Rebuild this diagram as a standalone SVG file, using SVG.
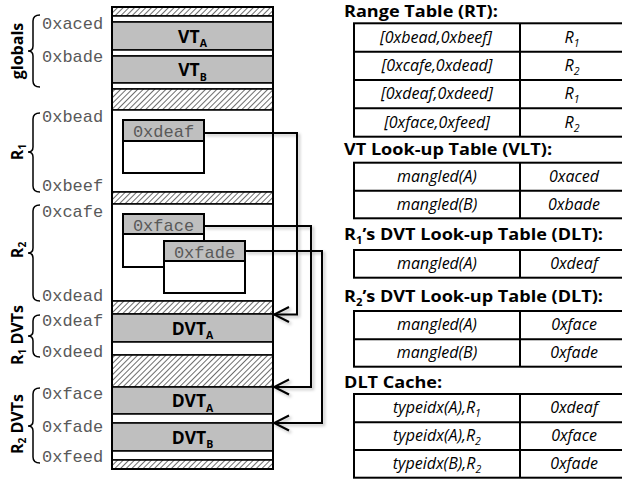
<svg xmlns="http://www.w3.org/2000/svg" width="622" height="481" viewBox="0 0 622 481">
<defs>
<pattern id="hatch" patternUnits="userSpaceOnUse" width="4" height="4" patternTransform="rotate(45)">
<rect width="4" height="4" fill="#fff"/>
<line x1="0.5" y1="0" x2="0.5" y2="4" stroke="#6e6e6e" stroke-width="1"/>
</pattern>
<marker id="arr" markerUnits="userSpaceOnUse" viewBox="-17 -10 19 20" markerWidth="19" markerHeight="20" refX="0" refY="0" orient="auto">
<path d="M-15,-7.5 L0,0 L-15,7.5" fill="none" stroke="#000" stroke-width="2"/>
</marker>
<filter id="sh" x="-10%" y="-10%" width="130%" height="130%">
<feDropShadow dx="2" dy="2" stdDeviation="1.5" flood-color="#000" flood-opacity="0.25"/>
</filter>
</defs>
<style>
.hatch{fill:url(#hatch);stroke:#000;stroke-width:1.5}
.white{fill:#fff;stroke:#000;stroke-width:1.5}
.gray{fill:#bfbfbf;stroke:#000;stroke-width:1.5}
.box{fill:#fff;stroke:#000;stroke-width:2}
.hdr{fill:#bfbfbf;stroke:#000;stroke-width:2}
.addr{font-family:"Liberation Mono","Courier New",monospace;font-size:17px;fill:#595959}
.lbl{font-family:"Open Sans","Liberation Sans",sans-serif;font-weight:bold;font-size:16px;fill:#000}
.big{font-size:17.5px}
.mid{text-anchor:middle}
.head{font-family:"Open Sans","Liberation Sans",sans-serif;font-weight:bold;font-size:16px;fill:#000}
.cell{font-family:"Open Sans","Liberation Sans",sans-serif;font-style:italic;font-size:16px;fill:#000;text-anchor:middle}
.tbl{fill:none;stroke:#000;stroke-width:2}
.brace{fill:none;stroke:#000;stroke-width:1.5}
.conn{fill:none;stroke:#000;stroke-width:2;marker-end:url(#arr)}
</style>

<g id="memory">
<g id="pad-top"><rect class="hatch" x="112" y="7" width="161" height="9"/><rect class="white" x="112" y="16" width="161" height="6"/></g>
<g id="vt-a"><rect class="gray" x="112" y="22" width="161" height="28"/><text class="lbl big mid" x="192.5" y="42.5">VT<tspan font-size="10.5" dy="4.5">A</tspan></text></g>
<rect class="white" x="112" y="50" width="161" height="6"/>
<g id="vt-b"><rect class="gray" x="112" y="56" width="161" height="27"/><text class="lbl big mid" x="192.5" y="76">VT<tspan font-size="10.5" dy="4.5">B</tspan></text></g>
<rect class="white" x="112" y="83" width="161" height="6"/>
<rect class="hatch" x="112" y="89" width="161" height="21"/>
<g id="region-r1"><rect class="white" x="112" y="110" width="161" height="82"/></g>
<rect class="hatch" x="112" y="192" width="161" height="12"/>
<g id="region-r2"><rect class="white" x="112" y="204" width="161" height="97"/></g>
<rect class="hatch" x="112" y="301" width="161" height="13"/>
<g id="r1-dvt-a"><rect class="gray" x="112" y="314" width="161" height="28"/><text class="lbl big mid" x="192.5" y="334.5">DVT<tspan font-size="10.5" dy="4.5">A</tspan></text></g>
<rect class="white" x="112" y="342" width="161" height="13"/>
<rect class="hatch" x="112" y="355" width="161" height="32"/>
<g id="r2-dvt-a"><rect class="gray" x="112" y="387" width="161" height="27"/><text class="lbl big mid" x="192.5" y="407">DVT<tspan font-size="10.5" dy="4.5">A</tspan></text></g>
<rect class="white" x="112" y="414" width="161" height="9"/>
<g id="r2-dvt-b"><rect class="gray" x="112" y="423" width="161" height="28"/><text class="lbl big mid" x="192.5" y="443.5">DVT<tspan font-size="10.5" dy="4.5">B</tspan></text></g>
<rect class="white" x="112" y="451" width="161" height="9"/>
<rect class="hatch" x="112" y="460" width="161" height="9"/>
<rect x="112" y="7" width="161" height="462" fill="none" stroke="#000" stroke-width="2"/>
</g>

<g id="obj-deaf"><rect class="box" x="123" y="120" width="81" height="53"/><rect class="hdr" x="123" y="120" width="81" height="21"/><text class="addr mid" x="163.5" y="136.5">0xdeaf</text></g>
<g id="obj-face"><rect class="box" x="123" y="214" width="81" height="53"/><rect class="hdr" x="123" y="214" width="81" height="20"/><text class="addr mid" x="163.5" y="231">0xface</text></g>
<g id="obj-fade"><rect class="box" x="164" y="241" width="81" height="52"/><rect class="hdr" x="164" y="241" width="81" height="20"/><text class="addr mid" x="204.5" y="258">0xfade</text></g>

<g id="connectors" filter="url(#sh)">
<path class="conn" d="M204,133 H297 V314.5 H274"/>
<path class="conn" d="M204,226 H311 V387 H274"/>
<path class="conn" d="M245,251 H322 V423 H274"/>
</g>

<g id="addresses">
<text class="addr" x="42" y="29">0xaced</text>
<text class="addr" x="42" y="62">0xbade</text>
<text class="addr" x="42" y="122">0xbead</text>
<text class="addr" x="42" y="191">0xbeef</text>
<text class="addr" x="42" y="217">0xcafe</text>
<text class="addr" x="42" y="301">0xdead</text>
<text class="addr" x="42" y="326">0xdeaf</text>
<text class="addr" x="42" y="357">0xdeed</text>
<text class="addr" x="42" y="399">0xface</text>
<text class="addr" x="42" y="432">0xfade</text>
<text class="addr" x="42" y="462">0xfeed</text>
</g>

<g id="brace-globals"><path class="brace" d="M40,15 Q33,15 33,21 V46 Q33,51 28,51 Q33,51 33,56 V81 Q33,87 40,87"/><text class="lbl mid" transform="translate(23,51) rotate(-90)">globals</text></g>
<g id="brace-r1"><path class="brace" d="M40,113 Q33,113 33,119 V147 Q33,152 28,152 Q33,152 33,157 V186 Q33,192 40,192"/><text class="lbl mid" transform="translate(23,152) rotate(-90)">R<tspan font-size="10" dy="3">1</tspan></text></g>
<g id="brace-r2"><path class="brace" d="M40,205 Q33,205 33,211 V248 Q33,253 28,253 Q33,253 33,258 V295 Q33,301 40,301"/><text class="lbl mid" transform="translate(23,250) rotate(-90)">R<tspan font-size="10" dy="3">2</tspan></text></g>
<g id="brace-r1-dvts"><path class="brace" d="M40,315 Q33,315 33,321 V331 Q33,336 28,336 Q33,336 33,341 V351 Q33,357 40,357"/><text class="lbl mid" transform="translate(23,335) rotate(-90)">R<tspan font-size="10" dy="3">1</tspan><tspan dy="-3"> DVTs</tspan></text></g>
<g id="brace-r2-dvts"><path class="brace" d="M40,388 Q33,388 33,394 V421 Q33,426 28,426 Q33,426 33,431 V457 Q33,463 40,463"/><text class="lbl mid" transform="translate(23,424) rotate(-90)">R<tspan font-size="10" dy="3">2</tspan><tspan dy="-3"> DVTs</tspan></text></g>

<g id="table-rt">
<text class="head" transform="translate(344,17) scale(1.13,1)">Range Table (RT):</text>
<rect class="tbl" x="354" y="23.3" width="276" height="113.4"/>
<path class="tbl" d="M354,51.7 H630 M354,80 H630 M354,108.3 H630 M520,23.3 V136.7"/>
<text class="cell" x="436" y="42.5">[0xbead,0xbeef]</text>
<text class="cell" x="437" y="71">[0xcafe,0xdead]</text>
<text class="cell" x="437" y="99">[0xdeaf,0xdeed]</text>
<text class="cell" x="437" y="127.5">[0xface,0xfeed]</text>
<text class="cell" x="572" y="42.5">R<tspan font-size="10.5" dy="4">1</tspan></text>
<text class="cell" x="572" y="71">R<tspan font-size="10.5" dy="4">2</tspan></text>
<text class="cell" x="572" y="99">R<tspan font-size="10.5" dy="4">1</tspan></text>
<text class="cell" x="572" y="127.5">R<tspan font-size="10.5" dy="4">2</tspan></text>
</g>

<g id="table-vlt">
<text class="head" transform="translate(344,155) scale(1.13,1)">VT Look-up Table (VLT):</text>
<rect class="tbl" x="354" y="162.7" width="276" height="55.6"/>
<path class="tbl" d="M354,190.7 H630 M520,162.7 V218.3"/>
<text class="cell" x="437" y="182">mangled(A)</text>
<text class="cell" x="574" y="182">0xaced</text>
<text class="cell" x="437" y="209.5">mangled(B)</text>
<text class="cell" x="574" y="209.5">0xbade</text>
</g>

<g id="table-r1-dlt">
<text class="head" transform="translate(344,239.5) scale(1.13,1)">R<tspan font-size="10" dy="4">1</tspan><tspan dy="-4">’s DVT Look-up Table (DLT):</tspan></text>
<rect class="tbl" x="354" y="250" width="276" height="27.7"/>
<path class="tbl" d="M520,250 V277.7"/>
<text class="cell" x="437" y="269">mangled(A)</text>
<text class="cell" x="574" y="269">0xdeaf</text>
</g>

<g id="table-r2-dlt">
<text class="head" transform="translate(344,301.5) scale(1.13,1)">R<tspan font-size="10" dy="4">2</tspan><tspan dy="-4">’s DVT Look-up Table (DLT):</tspan></text>
<rect class="tbl" x="354" y="311" width="276" height="55.7"/>
<path class="tbl" d="M354,339.3 H630 M520,311 V366.7"/>
<text class="cell" x="437" y="330">mangled(A)</text>
<text class="cell" x="574" y="330">0xface</text>
<text class="cell" x="437" y="358">mangled(B)</text>
<text class="cell" x="574" y="358">0xfade</text>
</g>

<g id="table-cache">
<text class="head" transform="translate(344,388) scale(1.13,1)">DLT Cache:</text>
<rect class="tbl" x="354" y="394" width="276" height="83.7"/>
<path class="tbl" d="M354,422.3 H630 M354,450 H630 M520,394 V477.7"/>
<text class="cell" x="437" y="413">typeidx(A),R<tspan font-size="10.5" dy="4">1</tspan></text>
<text class="cell" x="574" y="413">0xdeaf</text>
<text class="cell" x="437" y="441">typeidx(A),R<tspan font-size="10.5" dy="4">2</tspan></text>
<text class="cell" x="574" y="441">0xface</text>
<text class="cell" x="437" y="469">typeidx(B),R<tspan font-size="10.5" dy="4">2</tspan></text>
<text class="cell" x="574" y="469">0xfade</text>
</g>
</svg>
